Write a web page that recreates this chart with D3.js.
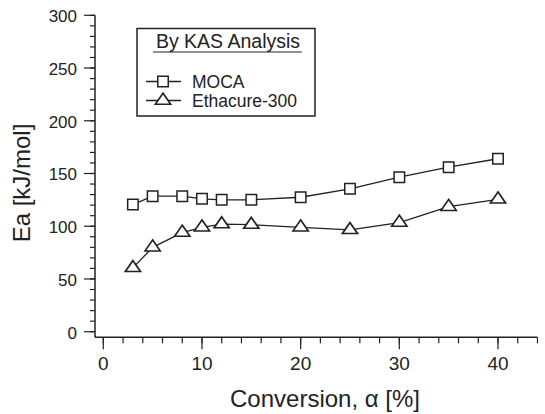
<!DOCTYPE html>
<html>
<head>
<meta charset="utf-8">
<script src="https://cdn.jsdelivr.net/npm/d3@7"></script>
<style>
  body { margin: 0; background: #fff; }
  text { font-family: "Liberation Sans", Arial, sans-serif; fill: #222; }
</style>
</head>
<body>
<div id="chart"></div>
<script>
// data
var conversion = [3, 5, 8, 10, 12, 15, 20, 25, 30, 35, 40];
var moca = [120.5, 128.5, 128.5, 126, 125, 125, 127.5, 135.5, 146.5, 156, 164];
var ethacure = [60.5, 80, 94, 99, 102, 101.5, 99, 96.5, 103.5, 118.5, 125.5];
var xTicks = [0, 10, 20, 30, 40];
var yTicks = [0, 50, 100, 150, 200, 250, 300];

var W = 545, H = 414;

var svg = d3.select("#chart")
  .append("svg")
    .attr("width", W)
    .attr("height", H);

// scales
var x = d3.scaleLinear().domain([0, 40]).range([103.3, 498]);
var y = d3.scaleLinear().domain([0, 300]).range([331.7, 15.3]);

var axisX = 95, axisY = 337.3;
var ink = "#222";

// y axis
var gy = svg.append("g").attr("transform", "translate(" + axisX + ",0)");
gy.append("line").attr("x1", 0).attr("x2", 0).attr("y1", y(300)).attr("y2", axisY)
  .attr("stroke", ink).attr("stroke-width", 1.5);
gy.selectAll(".minor").data(d3.range(0, 301, 10)).join("line")
  .attr("x1", -5).attr("x2", 0)
  .attr("y1", d => y(d)).attr("y2", d => y(d))
  .attr("stroke", ink).attr("stroke-width", 1.2);
gy.selectAll(".major").data(yTicks).join("line")
  .attr("x1", -11).attr("x2", 0)
  .attr("y1", d => y(d)).attr("y2", d => y(d))
  .attr("stroke", ink).attr("stroke-width", 1.2);
gy.selectAll("text").data(yTicks).join("text")
  .attr("x", -18).attr("y", d => y(d))
  .attr("dy", "0.4em")
  .attr("text-anchor", "end")
  .style("font-size", "17px")
  .text(d => d);

// x axis
var gx = svg.append("g").attr("transform", "translate(0," + axisY + ")");
gx.append("line").attr("x1", axisX).attr("x2", x(44)).attr("y1", 0).attr("y2", 0)
  .attr("stroke", ink).attr("stroke-width", 1.5);
gx.selectAll(".minor").data(d3.range(0, 45, 2)).join("line")
  .attr("x1", d => x(d)).attr("x2", d => x(d))
  .attr("y1", 0).attr("y2", 6)
  .attr("stroke", ink).attr("stroke-width", 1.2);
gx.selectAll(".major").data(xTicks).join("line")
  .attr("x1", d => x(d)).attr("x2", d => x(d))
  .attr("y1", 0).attr("y2", 12)
  .attr("stroke", ink).attr("stroke-width", 1.2);
gx.selectAll("text").data(xTicks).join("text")
  .attr("x", d => x(d)).attr("y", 33)
  .attr("text-anchor", "middle")
  .style("font-size", "19px")
  .text(d => d);

// axis titles
svg.append("text")
  .attr("x", 325).attr("y", 407)
  .attr("text-anchor", "middle")
  .style("font-size", "24px")
  .text("Conversion, \u03b1 [%]");
svg.append("text")
  .attr("transform", "translate(30,183) rotate(-90)")
  .attr("text-anchor", "middle")
  .style("font-size", "24px")
  .text("Ea [kJ/mol]");

// lines
var line = d3.line()
  .x((d, i) => x(conversion[i]))
  .y(d => y(d));

svg.append("path").datum(moca)
  .attr("fill", "none").attr("stroke", ink).attr("stroke-width", 1.3)
  .attr("d", line);
svg.append("path").datum(ethacure)
  .attr("fill", "none").attr("stroke", ink).attr("stroke-width", 1.3)
  .attr("d", line);

var square = d3.symbol().type(d3.symbolSquare).size(110);
var triangle = d3.symbol().type(d3.symbolTriangle).size(70);

svg.selectAll(".sq").data(moca).join("path")
  .attr("class", "sq")
  .attr("transform", (d, i) => "translate(" + x(conversion[i]) + "," + y(d) + ")")
  .attr("d", square)
  .attr("fill", "#fff").attr("stroke", ink).attr("stroke-width", 1.5);
svg.selectAll(".tri").data(ethacure).join("path")
  .attr("class", "tri")
  .attr("transform", (d, i) => "translate(" + x(conversion[i]) + "," + y(d) + ") scale(1.2,1)")
  .attr("d", triangle)
  .attr("fill", "#fff").attr("stroke", ink).attr("stroke-width", 1.5);

// legend
var lg = svg.append("g");
lg.append("rect").attr("x", 137).attr("y", 28.5).attr("width", 178).attr("height", 87.5)
  .attr("fill", "#fff").attr("stroke", ink).attr("stroke-width", 1.5);
lg.append("text").attr("x", 228).attr("y", 48)
  .attr("text-anchor", "middle")
  .style("font-size", "19.5px")
  .text("By KAS Analysis");
lg.append("line").attr("x1", 153).attr("x2", 302).attr("y1", 52).attr("y2", 52)
  .attr("stroke", ink).attr("stroke-width", 1.2);

var legendItems = [
  { name: "MOCA", sym: square, sx: 1, cy: 81.5 },
  { name: "Ethacure-300", sym: triangle, sx: 1.2, cy: 100.5 }
];
legendItems.forEach(function(it) {
  lg.append("line").attr("x1", 146).attr("x2", 181).attr("y1", it.cy).attr("y2", it.cy)
    .attr("stroke", ink).attr("stroke-width", 1.3);
  lg.append("path").attr("d", it.sym)
    .attr("transform", "translate(163," + it.cy + ") scale(" + it.sx + ",1)")
    .attr("fill", "#fff").attr("stroke", ink).attr("stroke-width", 1.5);
  lg.append("text").attr("x", 192).attr("y", it.cy).attr("dy", "0.36em")
    .style("font-size", "17.5px")
    .text(it.name);
});
</script>
</body>
</html>
